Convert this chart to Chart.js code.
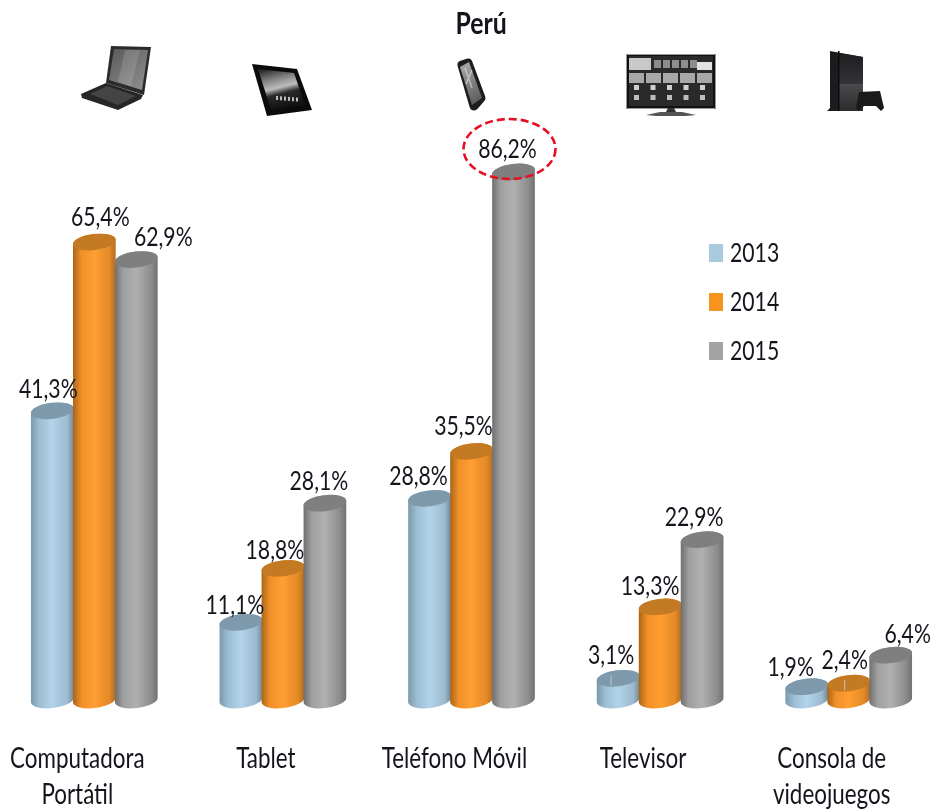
<!DOCTYPE html>
<html lang="es">
<head>
<meta charset="utf-8">
<title>Perú</title>
<script src="https://cdn.jsdelivr.net/npm/chart.js@4/dist/chart.umd.min.js"></script>
<style>
  html,body{margin:0;padding:0;background:#fff;overflow:hidden}
  #wrap{width:932px;height:811px;overflow:hidden}
</style>
</head>
<body>
<div id="wrap"><canvas id="c" width="943" height="811"></canvas></div>
<script>
// Data
var chartTitle = "Perú";
var categories = [["Computadora","Portátil"],"Tablet","Teléfono Móvil","Televisor",["Consola de","videojuegos"]];
var seriesNames = ["2013","2014","2015"];
var values2013 = [41.3,11.1,28.8,3.1,1.9];
var values2014 = [65.4,18.8,35.5,13.3,2.4];
var values2015 = [62.9,28.1,86.2,22.9,6.4];
// the original squeezes the tallest bar: the axis stops under 86,2
var axisMax = 75.4;

// hand placed label nudges from the bar centre (px)
var nudgeX = [[-4,-6,-11,-7,-16],[6,-8,-8,-10,-4],[27,-6,-6,-8,17]];
var nudgeY = [[-21,-17,-22,-23,-19],[-25,-18,-25,-20,-23],[-22,-22,-23,-22,-21]];
// labels that keep a little leader line into the cap (series, category)
var leaders = [[0,3],[1,4]];

var FONT = "Lato,'Liberation Sans',sans-serif";
var INK = "#14141c";
var SQUEEZE = 0.8;
var shades = {
  "#A9C9DE":{stops:["#7B98AB","#9CBDD2","#B2D3E9","#9DBBCF","#6F8899"],cap:"#7E99AB"},
  "#F7941E":{stops:["#A8641A","#F09028","#FF9E33","#E48A26","#B06C1F"],cap:"#C47A22"},
  "#A3A3A3":{stops:["#6E6E6E","#A0A0A0","#B0B0B0","#8C8C8C","#707070"],cap:"#7F7F7F"}
};
var colors = ["#A9C9DE","#F7941E","#A3A3A3"];
var RY = 8, TILT = -7*Math.PI/180;
var plotTop = 0;

function comma(v){return v.toFixed(1).replace(".",",")+"%";}

// bars are drawn as tilted cylinders, the position still comes from the scales
Chart.BarElement.prototype.draw = function(ctx){
  var s = shades[this.options.backgroundColor];
  var top = Math.max(this.y, plotTop), base = this.base;
  var rx = this.width/2+0.5, x = this.x;
  var g = ctx.createLinearGradient(x-rx,0,x+rx,0);
  [0,0.2,0.5,0.85,1].forEach(function(p,i){g.addColorStop(p,s.stops[i]);});
  ctx.save();
  ctx.fillStyle = g;
  ctx.beginPath();
  ctx.ellipse(x,base,rx,RY,TILT,0,Math.PI);
  ctx.ellipse(x,top,rx,RY,TILT,Math.PI,2*Math.PI);
  ctx.closePath();
  ctx.fill();
  ctx.fillStyle = s.cap;
  ctx.beginPath();
  ctx.ellipse(x,top,rx,RY,TILT,0,2*Math.PI);
  ctx.fill();
  ctx.restore();
};

function poly(ctx,pts,fill){
  ctx.fillStyle = fill;
  ctx.beginPath();
  pts.forEach(function(p,i){ if(i) ctx.lineTo(p[0],p[1]); else ctx.moveTo(p[0],p[1]); });
  ctx.closePath();
  ctx.fill();
}
function lin(ctx,x0,y0,x1,y1,a,b){var g=ctx.createLinearGradient(x0,y0,x1,y1);g.addColorStop(0,a);g.addColorStop(1,b);return g;}

function iconLaptop(ctx){
  poly(ctx,[[111,46],[151,47],[144,95],[106,83]],"#2b2b2b");
  poly(ctx,[[114,49],[148,50],[142,90],[109,80]],lin(ctx,112,50,146,88,"#5c5c5c","#8f8f8f"));
  poly(ctx,[[125,50],[140,50],[131,86],[118,82]],"rgba(255,255,255,.13)");
  poly(ctx,[[81,94],[106,83],[143,95],[141,99],[118,110],[82,98]],"#262626");
  poly(ctx,[[90,94],[107,86],[136,96],[118,105]],"#444");
}
function iconTablet(ctx){
  poly(ctx,[[252,64],[297,69],[312,110],[267,116]],"#0b0b0b");
  var g = ctx.createLinearGradient(272,68,282,108);
  g.addColorStop(0,"#2a2a2a"); g.addColorStop(0.3,"#8a8a8a"); g.addColorStop(0.5,"#bdbdbd"); g.addColorStop(0.66,"#2a2a2a"); g.addColorStop(1,"#111");
  poly(ctx,[[258,69],[294,73],[305,105],[271,110]],g);
  ctx.fillStyle = "#bbb";
  for(var i=0;i<6;i++) ctx.fillRect(276+i*4,96+i*0.3,2,4);
}
function iconPhone(ctx){
  ctx.strokeStyle = "#1d1d1d"; ctx.lineWidth = 9; ctx.lineJoin = "round";
  ctx.beginPath(); ctx.moveTo(462,65); ctx.lineTo(468,63); ctx.lineTo(481,98); ctx.lineTo(474,106); ctx.closePath(); ctx.stroke();
  poly(ctx,[[460,67],[469,62],[482,98],[472,105]],lin(ctx,460,65,480,102,"#a8a8a8","#5a5a5a"));
  ctx.strokeStyle = "rgba(235,235,235,.55)"; ctx.lineWidth = 1.5;
  ctx.beginPath(); ctx.moveTo(465,68); ctx.lineTo(472,88); ctx.moveTo(472,70); ctx.lineTo(466,84); ctx.stroke();
}
function iconTV(ctx){
  var i;
  ctx.fillStyle = "#111"; ctx.fillRect(626,54,90,55);
  ctx.strokeStyle = "#999"; ctx.lineWidth = 1; ctx.strokeRect(626.5,54.5,89,54);
  ctx.fillStyle = "#2a2a2a"; ctx.fillRect(629,56,84,50);
  ctx.fillStyle = "#c9c9c9"; ctx.fillRect(629,58,22,12);
  ctx.fillStyle = "#8d8d8d"; for(i=0;i<5;i++) ctx.fillRect(654+i*9,60,7,8);
  ctx.fillStyle = "#e2e2e2"; ctx.fillRect(697,62,15,8);
  ctx.fillStyle = "#a8a8a8"; for(i=0;i<5;i++) ctx.fillRect(629+i*17,73,15,10);
  ctx.fillStyle = "#cfcfcf"; for(i=0;i<5;i++) ctx.fillRect(634+i*16.5,85,5,5);
  ctx.fillStyle = "#bdbdbd"; for(i=0;i<5;i++) ctx.fillRect(634+i*16.5,95,5,5);
  poly(ctx,[[668,108],[674,108],[676,112],[666,112]],"#333");
  poly(ctx,[[646,115],[660,112],[682,112],[696,115],[686,116],[656,116]],"#555");
}
function iconConsole(ctx){
  poly(ctx,[[830,51],[863,57],[863,111],[827,111],[830,108]],"#1b1c1e");
  poly(ctx,[[838,53],[863,57],[863,84],[838,84]],lin(ctx,850,55,850,84,"#1e1f21","#333436"));
  poly(ctx,[[838,84],[863,84],[863,111],[838,111]],lin(ctx,850,84,850,111,"#4a4b4d","#2a2b2d"));
  ctx.fillStyle = "#0b0b0b"; ctx.fillRect(838,51,1.5,60);
  poly(ctx,[[859,92],[880,91],[884,108],[881,111],[876,106],[864,106],[859,111],[856,108]],"#1a1a1a");
  ctx.fillStyle = "#fff"; ctx.fillRect(864,107,12,4);
}

var extras = {
  id:"extras",
  beforeDatasetsDraw:function(c){ plotTop = c.chartArea.top; },
  // Chart.js paints the last dataset first; here each later bar has to sit over the earlier one
  beforeDatasetDraw:function(){ return false; },
  afterDatasetsDraw:function(c){
    var ctx = c.ctx, top = c.chartArea.top;
    c.data.datasets.forEach(function(ds,si){ c.getDatasetMeta(si).controller.draw(); });
    ctx.save();
    // leader lines
    ctx.strokeStyle = "rgba(205,205,205,.9)"; ctx.lineWidth = 1;
    leaders.forEach(function(l){
      var bar = c.getDatasetMeta(l[0]).data[l[1]], x = bar.x+nudgeX[l[0]][l[1]];
      ctx.beginPath(); ctx.moveTo(x,bar.y-3); ctx.lineTo(x,bar.y+7); ctx.stroke();
    });
    ctx.textBaseline = "middle";
    ctx.fillStyle = INK;
    // title
    ctx.textAlign = "center";
    ctx.font = "bold 31px "+FONT;
    ctx.fillText(chartTitle,481,24);
    // value labels
    ctx.font = "26.5px "+FONT;
    var peak = null;
    c.data.datasets.forEach(function(ds,si){
      c.getDatasetMeta(si).data.forEach(function(bar,i){
        var y = Math.max(bar.y,top)+nudgeY[si][i], x = bar.x+nudgeX[si][i];
        ctx.fillText(comma(ds.data[i]),x,y);
        if(bar.y<top) peak = {x:x,y:y};
      });
    });
    // red ring round the value the axis can't hold
    if(peak){
      ctx.strokeStyle = "#E60F23"; ctx.lineWidth = 2.6; ctx.setLineDash([8,4]);
      ctx.beginPath(); ctx.ellipse(peak.x+2,peak.y,46,30,0,0,2*Math.PI); ctx.stroke();
      ctx.setLineDash([]);
    }
    // legend
    ctx.textAlign = "left";
    seriesNames.forEach(function(n,i){
      var cy = 253+i*49;
      ctx.fillStyle = colors[i]; ctx.fillRect(709,cy-9,14,18);
      ctx.fillStyle = INK; ctx.fillText(n,730,cy);
    });
    // device pictures, slightly soft like the pasted images
    ctx.filter = "blur(0.5px)";
    iconLaptop(ctx); iconTablet(ctx); iconPhone(ctx); iconTV(ctx); iconConsole(ctx);
    ctx.restore();
  }
};

var ctx2d = document.getElementById("c").getContext("2d");
// the reference type is a narrow Calibri; squeeze Lato sideways to get the same look
var rawFillText = ctx2d.fillText;
ctx2d.fillText = function(t,x,y){
  this.save();
  this.translate(x,y);
  this.scale(SQUEEZE,1);
  rawFillText.call(this,t,0,0);
  this.restore();
};

new Chart(ctx2d,{
  type:"bar",
  data:{labels:categories,datasets:[
    {label:seriesNames[0],data:values2013,backgroundColor:colors[0]},
    {label:seriesNames[1],data:values2014,backgroundColor:colors[1]},
    {label:seriesNames[2],data:values2015,backgroundColor:colors[2]}
  ]},
  plugins:[extras],
  options:{
    responsive:false,animation:false,
    layout:{padding:{top:172,left:0,right:0,bottom:0}},
    datasets:{bar:{categoryPercentage:0.668,barPercentage:1}},
    plugins:{legend:{display:false},title:{display:false},tooltip:{enabled:false}},
    scales:{
      y:{display:false,min:0,max:axisMax},
      x:{
        afterFit:function(s){s.height=111;},
        grid:{display:false,drawTicks:true,tickLength:40},border:{display:false},
        ticks:{autoSkip:false,maxRotation:0,minRotation:0,labelOffset:-17,padding:0,color:INK,
          font:{family:FONT,size:28,lineHeight:1.32}}
      }
    }
  }
});
</script>
</body>
</html>
